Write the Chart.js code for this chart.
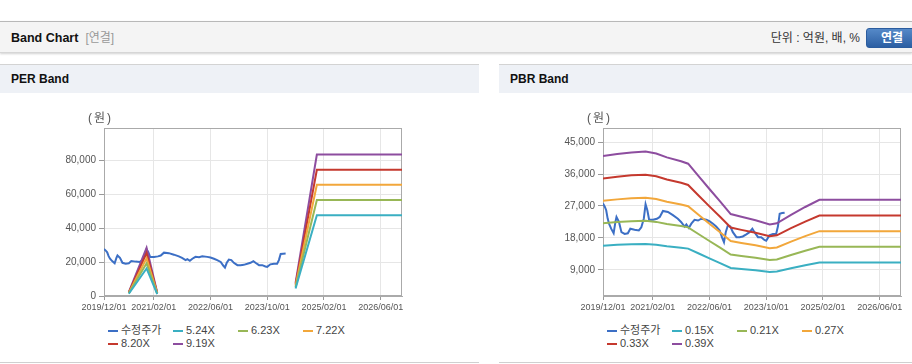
<!DOCTYPE html>
<html lang="ko">
<head>
<meta charset="utf-8">
<script src="https://cdn.jsdelivr.net/npm/chart.js@4.4.1/dist/chart.umd.min.js"></script>
<style>
  body { margin: 0; width: 912px; height: 364px; overflow: hidden; background: #fff; position: relative;
         font-family: "Liberation Sans", "Noto Sans CJK KR", sans-serif; }
  .topbar { position: absolute; left: 0; top: 21px; width: 912px; height: 30px; background: #f4f4f4;
            border-top: 1px solid #b8b8b8; border-bottom: 1px solid #d6d6d6; box-shadow: 0 1px 2px rgba(0,0,0,0.18); }
  .topbar .title { position: absolute; left: 11px; top: 1px; line-height: 30px; font-size: 12.5px; font-weight: bold; color: #111; }
  .topbar .title span { font-weight: normal; color: #999; font-size: 12px; margin-left: 7px; }
  .topbar .unit { position: absolute; right: 52px; top: 1px; line-height: 30px; font-size: 12px; color: #333; }
  .topbar .btn { position: absolute; left: 866px; top: 6px; width: 52px; height: 20px; box-sizing: border-box;
                 border: 1px solid #2b5c9e; border-radius: 3px; background: linear-gradient(#5589c8, #2c5fa3);
                 color: #fff; font-size: 12px; font-weight: bold; line-height: 18px; text-align: center; }
  .panel { position: absolute; top: 64px; height: 297px; border-top: 1px solid #d3d3d3; border-bottom: 1px solid #d0d0d0; background: #fff; }
  .panel .head { height: 28px; background: #eef1f6; padding-left: 11px; line-height: 29px; font-size: 12px; font-weight: bold; color: #111; }
  .panel canvas { position: absolute; left: 0; top: 28px; }
  .panel .won { position: absolute; left: 88px; top: 46px; line-height: 14px; font-size: 12px; color: #555; letter-spacing: 2px; }
  .legend { position: absolute; left: 108px; top: 259px; display: grid; grid-template-columns: repeat(4, 65px);
            font-size: 11px; line-height: 13px; color: #444; }
  .legend div { display: flex; align-items: center; white-space: nowrap; }
  .legend i { display: inline-block; width: 10px; height: 2px; margin-right: 3px; }
</style>
</head>
<body>
<div class="topbar">
  <div class="title">Band Chart<span>[연결]</span></div>
  <div class="unit">단위 : 억원, 배, %</div>
  <div class="btn">연결</div>
</div>

<div class="panel" style="left:0; width:479px;">
  <div class="head">PER Band</div>
  <canvas id="perChart" width="479" height="230"></canvas>
  <div class="won">(원)</div>
  <div class="legend" id="perLegend"></div>
</div>

<div class="panel" style="left:499px; width:413px;">
  <div class="head">PBR Band</div>
  <canvas id="pbrChart" width="413" height="230"></canvas>
  <div class="won">(원)</div>
  <div class="legend" id="pbrLegend"></div>
</div>

<script>
// 수정주가 (shared by both charts)
const priceDates = [
  '2019/12/01', '2019/12/16', '2019/12/28', '2020/01/10', '2020/01/22', '2020/02/10', '2020/03/01', '2020/03/16',
  '2020/03/25', '2020/04/16', '2020/05/07', '2020/06/04', '2020/07/01', '2020/07/22', '2020/08/28', '2020/10/04',
  '2020/10/25', '2020/11/16', '2020/12/01', '2020/12/16', '2021/01/01', '2021/02/04', '2021/03/07', '2021/04/01',
  '2021/04/28', '2021/06/10', '2021/07/22', '2021/09/04', '2021/10/01', '2021/11/01', '2021/11/16', '2021/12/07',
  '2021/12/28', '2022/01/25', '2022/02/25', '2022/03/22', '2022/05/04', '2022/06/01', '2022/07/01', '2022/07/28',
  '2022/08/28', '2022/09/19', '2022/10/04', '2022/10/19', '2022/11/07', '2022/11/28', '2022/12/19', '2023/01/19',
  '2023/02/16', '2023/03/13', '2023/04/13', '2023/05/10', '2023/06/04', '2023/06/22', '2023/07/22', '2023/08/19',
  '2023/09/16', '2023/10/01', '2023/10/28', '2023/11/28', '2023/12/25', '2024/01/10', '2024/01/25', '2024/02/16',
  '2024/03/07'
];
const priceValues = [
  27700, 26800, 25800, 23500, 22000, 20600, 19300, 22500,
  23900, 22500, 19600, 19100, 19300, 20600, 20300, 20100,
  21000, 23400, 27500, 25800, 23100, 23100, 23400, 23900,
  25600, 25300, 24400, 23400, 22500, 21200, 21800, 20800,
  22000, 23100, 22900, 23400, 23100, 22700, 22000, 21200,
  20100, 18000, 16800, 19600, 21500, 21200, 19600, 18200,
  18200, 18400, 19000, 19600, 20600, 19600, 18200, 18200,
  17400, 17200, 18700, 19100, 19100, 21200, 24800, 25000,
  25100
];

// PER band: EPS base (null = no band) and multiples
const epsDates = ['2020/07/01', '2020/12/01', '2021/03/01', '2022/12/01', '2024/06/01', '2024/12/01', '2026/12/01'];
const epsValues = [250, 3100, 220, null, 835, 9090, 9090];
const perMultiples = [5.24, 6.23, 7.22, 8.20, 9.19];

// PBR band: BPS base and multiples
const bpsDates = [
  '2019/12/01', '2020/04/01', '2020/08/01', '2020/12/01', '2021/03/01', '2021/06/01', '2021/10/01', '2021/12/01',
  '2022/03/01', '2022/06/01', '2022/09/01', '2022/12/01', '2023/03/01', '2023/07/01', '2023/11/01', '2024/01/01',
  '2024/05/01', '2024/09/01', '2025/01/01', '2026/12/01'
];
const bpsValues = [
  105400, 106900, 108000, 108600, 107200, 104400, 101600, 99800,
  90600, 81500, 72600, 63400, 61400, 58900, 55900, 56700,
  62800, 68500, 73700, 73700
];
const pbrMultiples = [0.15, 0.21, 0.27, 0.33, 0.39];

// axes
const xStart = '2019/12/01';
const xEnd = '2026/12/01';
const xTickLabels = ['2019/12/01', '2021/02/01', '2022/06/01', '2023/10/01', '2025/02/01', '2026/06/01'];
const perYTicks = [0, 20000, 40000, 60000, 80000];
const perYRange = [0, 99200];
const pbrYTicks = [9000, 18000, 27000, 36000, 45000];
const pbrYRange = [1600, 49000];

const lineColors = ['#3c6fc5', '#3aafc2', '#98b756', '#f2a73b', '#c5392e', '#8d4d9f'];

function toMonth(s) {
    let [y, m, d] = s.split('/').map(Number);
    let [y0, m0] = xStart.split('/').map(Number);
    return (y - y0) * 12 + (m - m0) + (d - 1) / 30;
}

function bandSets(dates, base, multiples) {
    return multiples.map((k, i) => ({
        label: k.toFixed(2) + 'X',
        data: dates.map((d, j) => ({ x: toMonth(d), y: base[j] == null ? null : Math.round(base[j] * k) })),
        borderColor: lineColors[i + 1],
        order: 0
    }));
}

function priceSet() {
    // price goes under the bands
    return {
        label: '수정주가',
        data: priceDates.map((d, i) => ({ x: toMonth(d), y: priceValues[i] })),
        borderColor: lineColors[0],
        order: 1
    };
}

// gray box around the plot area
const boxBorder = {
    id: 'boxBorder',
    beforeDatasetsDraw(chart) {
        let { ctx, chartArea: a } = chart;
        ctx.save();
        ctx.strokeStyle = '#aaa';
        ctx.lineWidth = 1;
        ctx.strokeRect(Math.round(a.left) + 0.5, Math.round(a.top) + 0.5,
                       Math.round(a.right - a.left) - 1, Math.round(a.bottom - a.top) - 1);
        ctx.restore();
    }
};

function makeChart(id, datasets, yRange, yTicks, padRight) {
    return new Chart(document.getElementById(id), {
        type: 'line',
        data: { datasets: datasets },
        options: {
            responsive: false,
            animation: false,
            layout: { padding: { top: 35, right: padRight, bottom: 0, left: 0 } },
            plugins: { legend: { display: false }, tooltip: { enabled: false } },
            elements: { point: { radius: 0 }, line: { borderWidth: 2, tension: 0 } },
            scales: {
                x: {
                    type: 'linear', min: 0, max: toMonth(xEnd),
                    afterBuildTicks: s => { s.ticks = xTickLabels.map(l => ({ value: toMonth(l) })); },
                    afterFit: s => { s.height = 27; },
                    grid: { color: '#e6e6e6', tickColor: '#999', tickLength: 4 },
                    border: { color: '#aaa' },
                    ticks: { autoSkip: false, maxRotation: 0, padding: 2, color: '#555',
                             font: { family: 'Liberation Sans', size: 9 },
                             callback: (v, i) => xTickLabels[i] }
                },
                y: {
                    min: yRange[0], max: yRange[1],
                    afterBuildTicks: s => { s.ticks = yTicks.map(v => ({ value: v })); },
                    afterFit: s => { s.width = 104; },
                    grid: { color: '#e6e6e6', tickColor: '#999', tickLength: 5 },
                    border: { color: '#aaa' },
                    ticks: { padding: 3, color: '#555', font: { family: 'Liberation Sans', size: 10 },
                             callback: v => v.toLocaleString('en-US') }
                }
            }
        },
        plugins: [boxBorder]
    });
}

function fillLegend(id, chart) {
    let box = document.getElementById(id);
    chart.data.datasets.forEach(ds => {
        let item = document.createElement('div');
        item.innerHTML = '<i style="background:' + ds.borderColor + '"></i>' + ds.label;
        box.appendChild(item);
    });
}

let perChart = makeChart('perChart', [priceSet()].concat(bandSets(epsDates, epsValues, perMultiples)),
                         perYRange, perYTicks, 77);
let pbrChart = makeChart('pbrChart', [priceSet()].concat(bandSets(bpsDates, bpsValues, pbrMultiples)),
                         pbrYRange, pbrYTicks, 11);

fillLegend('perLegend', perChart);
fillLegend('pbrLegend', pbrChart);
</script>
</body>
</html>
